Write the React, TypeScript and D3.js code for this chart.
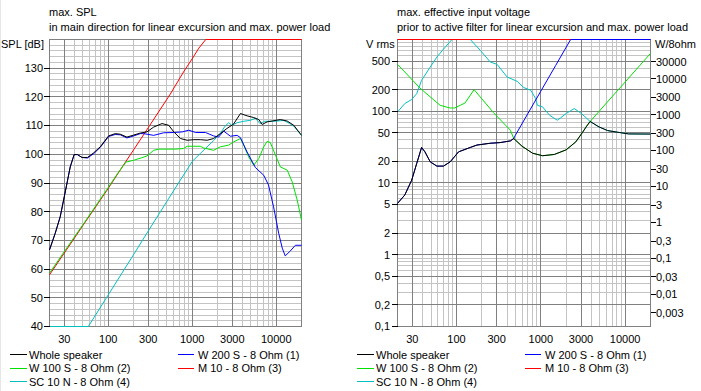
import React from 'react';
import * as d3 from 'd3';

const W = 701;
const H = 391;
const FONT = '"Liberation Sans", Arial, sans-serif';

type Pt = [number, number];

// ---------- Left chart: max. SPL [dB] vs frequency [Hz] ----------
const splWhole: Pt[] = [
  [20, 66.7], [23.4, 72.5], [26.8, 78.2], [30.8, 86.9], [35.3, 95.6], [39.3, 99.9], [43, 99.9],
  [48.8, 98.9], [56.6, 98.9], [67, 100.5], [80.3, 102.6], [101, 106.4], [121, 107.2], [139, 107],
  [167, 106], [201, 106.7], [241, 107.4], [289, 107.8], [348, 109.5], [437, 110.7], [526, 110.1],
  [604, 107.8], [725, 105.5], [870, 104.9], [1045, 105.1], [1250, 105.1], [1505, 104.9], [1800, 105.5],
  [2160, 107.2], [2590, 109], [3100, 110.5], [3750, 114.2], [4500, 113.4], [5400, 112.8], [6200, 112.1],
  [6800, 110.4], [7800, 111.3], [8950, 111.6], [11200, 112.1], [13500, 111.6], [16200, 110.1], [20000, 106.6],
];
const splW200: Pt[] = [
  [20, 66.7], [23.4, 72.5], [26.8, 78.2], [30.8, 86.9], [35.3, 95.6], [39.3, 99.9], [43, 99.9],
  [48.8, 98.9], [56.6, 98.7], [67, 100.2], [80.3, 102.4], [101, 106.2], [121, 106.9], [139, 106.8],
  [167, 105.7], [201, 106.4], [241, 107.2], [264, 107.2], [348, 106.6], [458, 107.5], [604, 107.6],
  [760, 107.8], [910, 108.4], [1100, 107.6], [1440, 107.6], [1800, 106.4], [2060, 106], [2370, 108.1],
  [2850, 106.3], [3420, 106.6], [3750, 105.8], [4500, 100.8], [5650, 95.4], [7100, 92.7], [8100, 89.3],
  [9300, 81.7], [10700, 72.5], [11800, 67.3], [12800, 64.6], [14700, 66.3], [16900, 68.3], [20000, 68.3],
];
const splW100: Pt[] = [
  [20, 58.6], [30, 66.1], [50, 75.5], [100, 88.4], [130, 93.4], [163, 97.3], [200, 97.9], [251, 98.8],
  [289, 99.4], [348, 101.4], [400, 101.8], [629, 101.8], [790, 102], [870, 102.8], [1250, 102.8],
  [1370, 102.2], [1800, 101.4], [2160, 102.6], [2720, 103.2], [3100, 104.3], [3750, 105.5], [4100, 103.2],
  [4700, 99.1], [5400, 96.2], [6200, 98.5], [7100, 102.6], [7800, 104.5], [8500, 104.1], [9800, 99.7],
  [11200, 95.6], [13500, 94.5], [15500, 90.4], [17800, 84], [20000, 77.1],
];
const splM10: Pt[] = [
  [20, 58], [30, 65.6], [50, 75.2], [100, 88.1], [150, 96], [200, 101.5], [300, 109.3], [549, 121],
  [800, 129], [1000, 133.3], [1200, 137], [1450, 140], [20000, 140],
];
const splSC10: Pt[] = [
  [20, 40], [58, 40], [100, 51], [200, 65], [300, 73.3], [500, 83.6], [722, 91], [1000, 97.5],
  [1250, 100.3], [1800, 104.8], [2160, 107.3], [2460, 109.8], [2720, 111], [2960, 110.1], [3420, 111],
  [4100, 111.5], [4870, 111.8], [5650, 112.6], [6400, 110.7], [7300, 111.5], [9300, 111.5],
  [12300, 111.8], [14500, 110.7], [16200, 109.8], [20000, 106.6],
];

// ---------- Right chart: max. effective input voltage [V rms] ----------
const vWhole: Pt[] = [
  [20, 5.2], [24.4, 6.8], [29.5, 11], [33.8, 18.7], [38.6, 31.3], [42.3, 27.2], [48.9, 19.7],
  [58.6, 17.2], [70.2, 17.2], [84.2, 19.7], [106, 27.2], [146, 31.3], [175, 33.8], [251, 35.8],
  [331, 36.6], [436, 38.6], [478, 41.7], [600, 32.5], [800, 26], [1050, 24], [1450, 25], [2000, 29],
  [2600, 37.4], [3100, 50], [3500, 62], [3850, 72], [4900, 60.5], [6200, 53.8], [8500, 50.6],
  [11000, 48.3], [20000, 48.1],
];
const vW200: Pt[] = [
  [20, 5.2], [24.4, 6.8], [29.5, 11], [33.8, 18.7], [38.6, 31.3], [42.3, 27.2], [48.9, 19.7],
  [58.6, 17.2], [70.2, 17.2], [84.2, 19.7], [106, 27.2], [146, 31.3], [175, 33.8], [251, 35.8],
  [331, 36.6], [436, 38.6], [478, 41.7], [500, 46.4], [700, 92], [1000, 190], [1500, 434],
  [2260, 1000], [20000, 1000],
];
const vW100: Pt[] = [
  [20, 451], [37, 210], [64, 121], [84, 111], [95, 111], [111, 121], [126, 130], [162, 200],
  [274, 96], [436, 54.4], [478, 41.7], [600, 32.5], [800, 26], [1050, 24], [1450, 25], [2000, 29],
  [2600, 37.4], [3100, 50], [3500, 62], [3850, 72], [6000, 130], [10000, 255], [15000, 437],
  [20000, 640],
];
const vM10: Pt[] = [
  [20, 1000], [20000, 1000],
];
const vSC10: Pt[] = [
  [20, 97.7], [24.4, 128], [29.5, 146], [33.8, 176], [38.6, 270], [48.9, 413], [58.6, 569],
  [73.6, 783], [88.6, 1000], [146, 1000], [192, 705], [252, 485], [303, 451], [399, 300],
  [525, 261], [626, 214], [760, 196], [870, 150], [912, 121], [1050, 115], [1270, 88], [1570, 75],
  [1720, 81], [2000, 93], [2490, 109], [3030, 93], [3850, 72], [4900, 60.5], [6200, 53.8],
  [8500, 50.6], [11000, 48.3], [20000, 48.1],
];

// ---------- Legend / axes ----------
const seriesNames = [
  'Whole speaker',
  'W 200 S - 8 Ohm (1)',
  'W 100 S - 8 Ohm (2)',
  'M 10 - 8 Ohm (3)',
  'SC 10 N - 8 Ohm (4)',
];
const seriesColors = ['#000000', '#0000ff', '#00e000', '#ff0000', '#00c0c0'];

const freqDomain: [number, number] = [20, 20000];
const freqTicks = [30, 100, 300, 1000, 3000, 10000];
const splDomain: [number, number] = [40, 140];
const splTicks = [40, 50, 60, 70, 80, 90, 100, 110, 120, 130];
const voltDomain: [number, number] = [0.1, 1000];
const voltTicks = [0.1, 0.2, 0.5, 1, 2, 5, 10, 20, 50, 100, 200, 500];
const powerTicks = [0.003, 0.01, 0.03, 0.1, 0.3, 1, 3, 10, 30, 100, 300, 1000, 3000, 10000, 30000];

const leftTitle = ['max. SPL', 'in main direction for linear excursion and max. power load'];
const rightTitle = ['max. effective input voltage', 'prior to active filter for linear excursion and max. power load'];

const Y0 = 39.5;
const Y1 = 326.5;
const MAJOR = '#808080';
const MINOR = '#c4c4c4';

const fmt = (v: number) => String(v).replace('.', ',');
const px = (v: number) => Math.round(v - 0.5) + 0.5;

function freqMinor(): number[] {
  const out: number[] = [];
  [10, 100, 1000, 10000].forEach((d) => {
    for (let m = 2; m <= 9; m++) {
      const f = m * d;
      if (f > 20 && f < 20000 && !freqTicks.includes(f)) out.push(f);
    }
  });
  return out;
}

interface PlotProps {
  id: string;
  x0: number;
  x1: number;
  y: (v: number) => number;
  yDomain: [number, number];
  yMajor: number[];
  yMinor: number[];
  series: Pt[][];
}

function Plot({ id, x0, x1, y, yDomain, yMajor, yMinor, series }: PlotProps) {
  const x = d3.scaleLog().domain(freqDomain).range([x0, x1]);
  const clampV = (v: number) => Math.max(yDomain[0], Math.min(yDomain[1], v));
  const line = d3
    .line<Pt>()
    .x((d) => x(d[0]))
    .y((d) => y(clampV(d[1])));
  const order = [4, 3, 2, 1, 0];
  return (
    <g>
      <rect x={x0} y={Y0} width={x1 - x0} height={Y1 - Y0} fill="#fff" />
      <g shapeRendering="crispEdges">
        {freqMinor().map((f) => (
          <line key={'vm' + f} x1={px(x(f))} x2={px(x(f))} y1={Y0} y2={Y1} stroke={MINOR} />
        ))}
        {yMinor.map((v) => (
          <line key={'hm' + v} x1={x0} x2={x1} y1={px(y(v))} y2={px(y(v))} stroke={MINOR} />
        ))}
        {freqTicks.map((f) => (
          <line key={'vM' + f} x1={px(x(f))} x2={px(x(f))} y1={Y0} y2={Y1} stroke={MAJOR} />
        ))}
        {yMajor.map((v) => (
          <line key={'hM' + v} x1={x0} x2={x1} y1={px(y(v))} y2={px(y(v))} stroke={MAJOR} />
        ))}
        <rect x={x0} y={Y0} width={x1 - x0} height={Y1 - Y0} fill="none" stroke={MAJOR} />
      </g>
      <defs>
        <clipPath id={id}>
          <rect x={x0 - 1} y={Y0 - 1} width={x1 - x0 + 2} height={Y1 - Y0 + 2} />
        </clipPath>
      </defs>
      <g clipPath={`url(#${id})`} fill="none" strokeWidth={1}>
        {order.map((i) => (
          <path key={i} d={line(series[i]) || ''} stroke={seriesColors[i]} />
        ))}
      </g>
      {freqTicks.map((f) => (
        <text key={'xl' + f} x={x(f)} y={343} textAnchor="middle">
          {f}
        </text>
      ))}
    </g>
  );
}

function Legend({ ox }: { ox: number }) {
  const cols = [
    { lx: 10, lw: 17, tx: 29 },
    { lx: 178, lw: 16, tx: 198 },
  ];
  const rows = [354.5, 368, 381.5];
  return (
    <g>
      {seriesNames.map((n, i) => {
        const c = cols[i % 2];
        const r = rows[Math.floor(i / 2)];
        return (
          <g key={n}>
            <line x1={ox + c.lx} x2={ox + c.lx + c.lw} y1={r} y2={r} stroke={seriesColors[i]} shapeRendering="crispEdges" />
            <text x={ox + c.tx} y={r + 4}>
              {n}
            </text>
          </g>
        );
      })}
    </g>
  );
}

export default function App() {
  const LX0 = 49.5, LX1 = 301.5;
  const RX0 = 397.5, RX1 = 650.5;
  const ySpl = d3.scaleLinear().domain(splDomain).range([Y1, Y0]);
  const yV = d3.scaleLog().domain(voltDomain).range([Y1, Y0]);
  const yP = d3.scaleLog().domain([voltDomain[0] ** 2 / 8, voltDomain[1] ** 2 / 8]).range([Y1, Y0]);

  const splMajor = d3.range(50, 140, 10);
  const splMinor = d3.range(42, 140, 2).filter((v) => v % 10 !== 0);
  const vMajor = [0.2, 0.5, 1, 2, 5, 10, 20, 50, 100, 200, 500];
  const vMinor: number[] = [];
  [0.1, 1, 10, 100].forEach((d) => [3, 4, 6, 7, 8, 9].forEach((m) => vMinor.push(+(d * m).toPrecision(3))));

  return (
    <svg
      width={W}
      height={H}
      style={{ position: 'absolute', left: 0, top: 0, background: '#fff' }}
      fontFamily={FONT}
      fontSize={11}
    >
      <rect x={0} y={0} width={W} height={H} fill="#fff" />
      <line x1={0.5} x2={0.5} y1={0} y2={H} stroke="#e6e6e6" />

      {/* Left chart */}
      <text x={49} y={16}>{leftTitle[0]}</text>
      <text x={49} y={31}>{leftTitle[1]}</text>
      <text x={44} y={48} textAnchor="end">SPL [dB]</text>
      <Plot
        id="clipL"
        x0={LX0}
        x1={LX1}
        y={ySpl}
        yDomain={splDomain}
        yMajor={splMajor}
        yMinor={splMinor}
        series={[splWhole, splW200, splW100, splM10, splSC10]}
      />
      {splTicks.map((v) => (
        <g key={'sl' + v}>
          <line x1={44} x2={LX0} y1={px(ySpl(v))} y2={px(ySpl(v))} stroke="#000" shapeRendering="crispEdges" />
          <text x={43} y={ySpl(v)} dy="0.35em" textAnchor="end">{v}</text>
        </g>
      ))}
      <Legend ox={0} />

      {/* Right chart */}
      <text x={397} y={16}>{rightTitle[0]}</text>
      <text x={397} y={31}>{rightTitle[1]}</text>
      <text x={366} y={48}>V rms</text>
      <text x={655} y={48}>W/8ohm</text>
      <Plot
        id="clipR"
        x0={RX0}
        x1={RX1}
        y={yV}
        yDomain={voltDomain}
        yMajor={vMajor}
        yMinor={vMinor}
        series={[vWhole, vW200, vW100, vM10, vSC10]}
      />
      {voltTicks.map((v) => (
        <g key={'vl' + v}>
          <line x1={392} x2={RX0} y1={px(yV(v))} y2={px(yV(v))} stroke="#000" shapeRendering="crispEdges" />
          <text x={390} y={yV(v)} dy="0.35em" textAnchor="end">{fmt(v)}</text>
        </g>
      ))}
      {powerTicks.map((p) => (
        <g key={'pl' + p}>
          <line x1={RX1} x2={655.5} y1={px(yP(p))} y2={px(yP(p))} stroke="#000" shapeRendering="crispEdges" />
          <text x={656} y={yP(p)} dy="0.35em">{fmt(p)}</text>
        </g>
      ))}
      <Legend ox={347} />
    </svg>
  );
}
